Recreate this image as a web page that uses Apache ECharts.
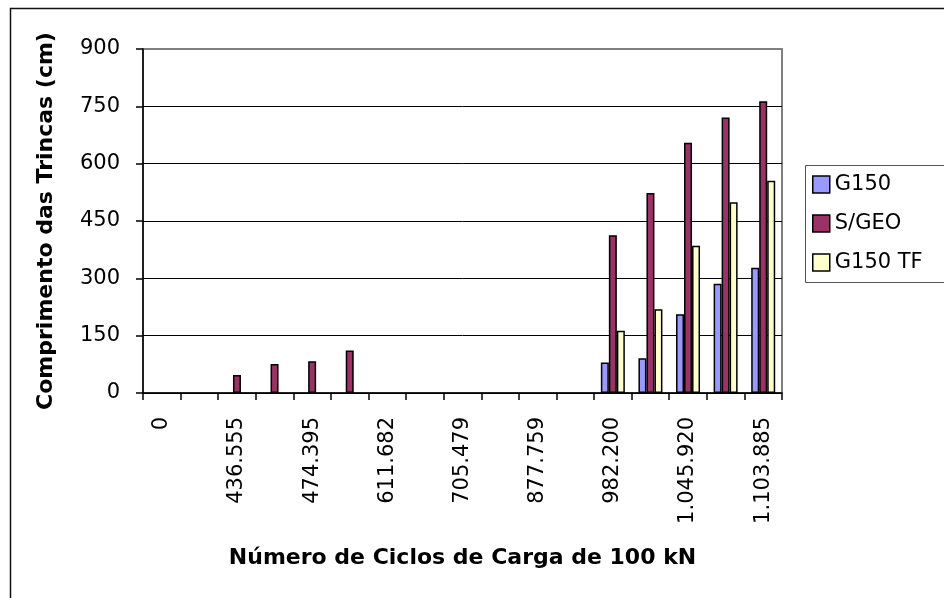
<!DOCTYPE html>
<html>
<head>
<meta charset="utf-8">
<title>Comprimento das Trincas</title>
<script src="https://cdn.jsdelivr.net/npm/echarts@6/dist/echarts.min.js"></script>
<style>
	html,body{margin:0;padding:0;background:#fff;}
	#chart{width:944px;height:598px;}
</style>
</head>
<body>
<div id="chart"></div>
<script>
// categorias do eixo x (so metade tem rotulo)
var ciclos = ['0','','436.555','','474.395','','611.682','','705.479','','877.759','','982.200','','1.045.920','','1.103.885'];
var yTicks = [0,150,300,450,600,750,900];

// comprimento das trincas (cm)
var g150   = [null,null,null,null,null,null,null,null,null,null,null,null,80,91,206,286,328];
var semGeo = [null,null,47,76,83,111,null,null,null,null,null,null,413,523,655,721,763];
var g150tf = [null,null,null,null,null,null,null,null,null,null,null,null,163,219,385,499,555];

var fonte = 'DejaVu Sans';

function serie(nome, cor, dados){
	return {
		name: nome,
		type: 'bar',
		barWidth: 8,
		barGap: '0%',
		data: dados,
		itemStyle: {color: cor, borderColor: '#000', borderWidth: 1.5},
		emphasis: {disabled: true}
	};
}

var chart = echarts.init(document.getElementById('chart'), null, {renderer: 'canvas'});

var option = {
	animation: false,
	backgroundColor: '#fff',
	grid: {
		left: 143, top: 49, right: 162, bottom: 205,
		show: true, borderColor: '#808080', borderWidth: 2, backgroundColor: 'transparent'
	},
	graphic: [
		// moldura externa
		{type: 'rect', left: 8, top: 6, z: 100, silent: true,
			shape: {width: 960, height: 620},
			style: {fill: 'none', stroke: '#111', lineWidth: 1.5}},
		// caixa da legenda
		{type: 'rect', left: 803, top: 163, z: 100, silent: true,
			shape: {width: 160, height: 117},
			style: {fill: 'none', stroke: '#555', lineWidth: 1}}
	],
	legend: {
		orient: 'vertical',
		left: 812, top: 174,
		padding: 0,
		itemWidth: 17, itemHeight: 17,
		itemGap: 18,
		icon: 'rect',
		selectedMode: false,
		itemStyle: {borderColor: '#000', borderWidth: 1.5},
		textStyle: {fontFamily: fonte, fontSize: 21, color: '#000', lineHeight: 17, padding: [0,0,0,0]},
		data: ['G150','S/GEO','G150 TF']
	},
	xAxis: {
		type: 'category',
		data: ciclos,
		boundaryGap: true,
		name: 'Número de Ciclos de Carga de 100 kN',
		nameLocation: 'middle',
		nameGap: 154,
		nameTextStyle: {fontFamily: fonte, fontSize: 22, fontWeight: 'bold', color: '#000'},
		axisLine: {lineStyle: {color: '#000', width: 1.5}},
		axisTick: {show: true, interval: 0, length: 7, lineStyle: {color: '#000', width: 1.5}},
		axisLabel: {interval: 1, rotate: 90, margin: 24, fontFamily: fonte, fontSize: 21, color: '#000'},
		splitLine: {show: false}
	},
	yAxis: {
		type: 'value',
		min: yTicks[0], max: yTicks[yTicks.length-1], interval: 150,
		name: 'Comprimento das Trincas (cm)',
		nameLocation: 'middle',
		nameGap: 86,
		nameRotate: 90,
		nameTextStyle: {fontFamily: fonte, fontSize: 22, fontWeight: 'bold', color: '#000'},
		axisLine: {show: true, lineStyle: {color: '#000', width: 1.5}},
		axisTick: {show: true, length: 7, inside: false, lineStyle: {color: '#000', width: 1.5}},
		axisLabel: {margin: 23, fontFamily: fonte, fontSize: 21, color: '#000'},
		splitLine: {show: true, lineStyle: {color: ['#000','#000','#000','#000','#000','#000','#808080'], width: 1}}
	},
	series: [
		serie('G150', '#9999FF', g150),
		serie('S/GEO', '#993366', semGeo),
		serie('G150 TF', '#FFFFCC', g150tf)
	]
};

chart.setOption(option);
</script>
</body>
</html>
